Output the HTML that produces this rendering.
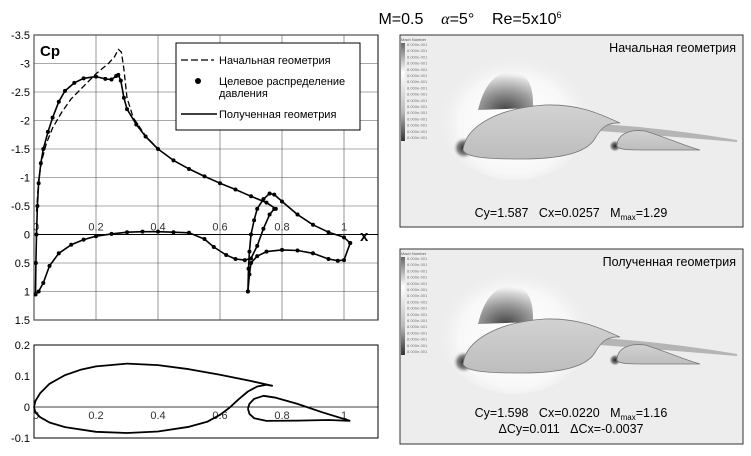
<!DOCTYPE html>
<html><head><meta charset="utf-8"><style>
body{margin:0;background:#fff;width:751px;height:451px;overflow:hidden}
svg{font-family:"Liberation Sans","Noto Sans CJK SC",sans-serif}
</style></head><body>
<svg id="fig" width="751" height="451" viewBox="0 0 751 451">
<defs>
<radialGradient id="shock" cx="0.5" cy="1" r="1"><stop offset="0" stop-color="#444"/><stop offset="0.5" stop-color="#999"/><stop offset="0.85" stop-color="#ddd"/><stop offset="1" stop-color="#eee" stop-opacity="0"/></radialGradient>
<radialGradient id="halo" cx="0.5" cy="0.6" r="0.5"><stop offset="0" stop-color="#fff"/><stop offset="0.7" stop-color="#f8f8f8"/><stop offset="1" stop-color="#ededed" stop-opacity="0"/></radialGradient>
<radialGradient id="stag" cx="0.5" cy="0.5" r="0.5"><stop offset="0" stop-color="#222"/><stop offset="0.6" stop-color="#888"/><stop offset="1" stop-color="#ddd" stop-opacity="0"/></radialGradient>
<linearGradient id="cbar" x1="0" y1="0" x2="0" y2="1"><stop offset="0" stop-color="#666"/><stop offset="0.3" stop-color="#fff"/><stop offset="0.7" stop-color="#bbb"/><stop offset="1" stop-color="#333"/></linearGradient>
<linearGradient id="foil" x1="0" y1="0" x2="0" y2="1"><stop offset="0" stop-color="#d2d2d2"/><stop offset="1" stop-color="#bdbdbd"/></linearGradient>
</defs>
<text x="470" y="24" font-size="16" text-anchor="middle">M=0.5 &#160;&#160; <tspan font-style="italic" font-family="Liberation Serif">α</tspan>=5° &#160;&#160; Re=5x10<tspan font-size="9" dy="-6">6</tspan></text>
<g id="cp"></g>
<g id="geo"></g>
<g id="panels"></g>
</svg>
<script>
// ---- Cp chart data ----
const cpYTicks = [-3.5,-3,-2.5,-2,-1.5,-1,-0.5,0,0.5,1,1.5];
const cpYLabels = ["-3.5","-3","-2.5","-2","-1.5","-1","-0.5","0","0.5","1","1.5"];
const xTicks = [0,0.2,0.4,0.6,0.8,1];
const xLabels = ["0","0.2","0.4","0.6","0.8","1"];
const mainUpperX = [0.005,0.006,0.008,0.011,0.015,0.022,0.03,0.045,0.06,0.08,0.1,0.13,0.16,0.2,0.23,0.25,0.265,0.272,0.28,0.29,0.3,0.33,0.36,0.4,0.45,0.5,0.55,0.6,0.65,0.7,0.75,0.78];
const mainUpperCp = [1.05,0.5,0,-0.5,-0.9,-1.25,-1.5,-1.8,-2.05,-2.33,-2.52,-2.66,-2.74,-2.77,-2.73,-2.72,-2.78,-2.8,-2.7,-2.4,-2.2,-1.93,-1.72,-1.5,-1.3,-1.15,-1.02,-0.9,-0.79,-0.67,-0.56,-0.45];
const initUpperX = [0.008,0.015,0.025,0.04,0.06,0.09,0.12,0.16,0.2,0.24,0.26,0.272,0.282,0.29,0.3,0.32,0.36,0.4];
const initUpperCp = [-0.4,-0.95,-1.3,-1.6,-1.87,-2.15,-2.38,-2.6,-2.82,-3.0,-3.12,-3.25,-3.2,-2.9,-2.4,-2.05,-1.73,-1.5];
const mainLowerX = [0.005,0.015,0.03,0.05,0.08,0.12,0.16,0.2,0.25,0.3,0.35,0.4,0.45,0.5,0.55,0.58,0.62,0.65,0.68,0.7,0.72,0.74,0.76,0.775];
const mainLowerCp = [1.05,1.0,0.85,0.55,0.33,0.18,0.09,0.03,-0.01,-0.04,-0.05,-0.05,-0.04,-0.03,0.08,0.22,0.36,0.43,0.45,0.42,0.2,-0.1,-0.35,-0.45];
const flapUpperX = [0.69,0.692,0.695,0.7,0.71,0.72,0.74,0.76,0.775,0.8,0.85,0.9,0.95,1.0,1.02];
const flapUpperCp = [1.0,0.6,0.3,0.0,-0.25,-0.45,-0.62,-0.72,-0.7,-0.58,-0.35,-0.17,-0.04,0.05,0.15];
const flapLowerX = [0.69,0.695,0.7,0.72,0.75,0.8,0.85,0.9,0.95,0.98,1.0,1.02];
const flapLowerCp = [1.0,0.7,0.5,0.38,0.3,0.27,0.28,0.33,0.43,0.46,0.45,0.15];
// ---- geometry data ----
const geoYTicks = [0.2,0.1,0,-0.1];
const geoYLabels = ["0.2","0.1","0","-0.1"];
const gMainUX = [0,0.005,0.02,0.05,0.1,0.15,0.2,0.3,0.4,0.5,0.6,0.7,0.77];
const gMainUY = [0,0.02,0.045,0.075,0.103,0.12,0.131,0.14,0.135,0.122,0.104,0.084,0.068];
const gMainLX = [0,0.005,0.02,0.05,0.1,0.2,0.3,0.4,0.5,0.56,0.6,0.63,0.66,0.69,0.72,0.75,0.77];
const gMainLY = [0,-0.018,-0.033,-0.05,-0.065,-0.08,-0.084,-0.079,-0.064,-0.047,-0.025,-0.003,0.025,0.05,0.066,0.072,0.068];
const gFlapUX = [0.69,0.695,0.71,0.74,0.78,0.85,0.93,1.02];
const gFlapUY = [-0.005,0.01,0.026,0.036,0.03,0.01,-0.017,-0.045];
const gFlapLX = [0.69,0.695,0.71,0.75,0.85,0.95,1.02];
const gFlapLY = [-0.005,-0.022,-0.036,-0.045,-0.044,-0.042,-0.045];

const NS="http://www.w3.org/2000/svg";
function mk(tag,attrs,parent){const e=document.createElementNS(NS,tag);for(const k in attrs)e.setAttribute(k,attrs[k]);parent.appendChild(e);return e;}
const X0=34, XS=310;
const sx=v=>X0+v*XS;
const cpY=v=>234.5+v*57;
const gY=v=>407-v*310;
const cp=document.getElementById('cp');
let r=mk('rect',{x:34,y:35,width:344,height:285,fill:'none',stroke:'#000','stroke-width':1},cp);


cpYTicks.forEach((t,i)=>{
  const l=mk('line',{x1:34,x2:378,y1:cpY(t),y2:cpY(t),stroke:t===0?'#000':'#555','stroke-width':t===0?1:0.6},cp);
  
  
  const tx=mk('text',{x:30,y:cpY(t)+4,'font-size':11,'text-anchor':'end'},cp);tx.textContent=cpYLabels[i];
  
  
});
xTicks.forEach((t,i)=>{
  const l=mk('line',{x1:sx(t),x2:sx(t),y1:35,y2:320,stroke:'#555','stroke-width':0.6},cp);
  
  
  const tx=mk('text',{x:sx(t)+(i===0?2:0),y:cpY(0)-4,'font-size':11,'text-anchor':'middle',fill:'#333'},cp);tx.textContent=xLabels[i];
  
  
});
let t1=mk('text',{x:40,y:56,'font-size':15,'font-weight':'bold'},cp);t1.textContent='Cp';


let t2=mk('text',{x:360,y:241,'font-size':15,'font-weight':'bold'},cp);t2.textContent='x';


function path(xs,ys,fy,parent,attrs,name){
  const d=xs.map((x,i)=>(i?'L':'M')+sx(x).toFixed(1)+' '+fy(ys[i]).toFixed(1)).join(' ');
  const p=mk('path',Object.assign({d:d,fill:'none',stroke:'#000','stroke-linejoin':'round'},attrs),parent);
  
  
}
path(initUpperX,initUpperCp,cpY,cp,{'stroke-width':1.3,'stroke-dasharray':'6,3'},'initial-geometry-line');
[[mainUpperX,mainUpperCp],[mainLowerX,mainLowerCp],[flapUpperX,flapUpperCp],[flapLowerX,flapLowerCp]].forEach(([xs,ys])=>{
  path(xs,ys,cpY,cp,{'stroke-width':1.6},'result-geometry-line');
  xs.forEach((x,i)=>{
    const c=mk('circle',{cx:sx(x),cy:cpY(ys[i]),r:2,fill:'#000'},cp);
    
    
  });
});
const lg=mk('g',{},cp);


mk('rect',{x:176,y:43,width:184,height:87,fill:'#fff',stroke:'#000','stroke-width':1},lg);
mk('line',{x1:181,x2:214,y1:60,y2:60,stroke:'#000','stroke-width':1.3,'stroke-dasharray':'7,3'},lg);
mk('circle',{cx:198,cy:81,r:3,fill:'#000'},lg);
mk('line',{x1:181,x2:217,y1:114,y2:114,stroke:'#000','stroke-width':1.5},lg);
[['Начальная геометрия',64],['Целевое распределение',85],['давления',97],['Полученная геометрия',118]].forEach(([s,y])=>{
  const t=mk('text',{x:219,y:y,'font-size':11},lg);t.textContent=s;
  
  
});
const geo=document.getElementById('geo');
r=mk('rect',{x:34,y:345,width:344,height:93,fill:'none',stroke:'#000','stroke-width':1},geo);


let zl=mk('line',{x1:34,x2:378,y1:gY(0),y2:gY(0),stroke:'#000','stroke-width':0.8},geo);


geoYTicks.forEach((t,i)=>{
  const tx=mk('text',{x:30,y:gY(t)+4,'font-size':11,'text-anchor':'end'},geo);tx.textContent=geoYLabels[i];
  
  
});
xTicks.forEach((t,i)=>{
  const tx=mk('text',{x:sx(t)+(i===0?2:0),y:gY(0)+12,'font-size':11,'text-anchor':'middle',fill:'#333'},geo);tx.textContent=xLabels[i];
  
  
});
[[gMainUX,gMainUY],[gMainLX,gMainLY],[gFlapUX,gFlapUY],[gFlapLX,gFlapLY]].forEach(([xs,ys])=>path(xs,ys,gY,geo,{'stroke-width':1.8},'airfoil-contour'));
const pn=document.getElementById('panels');
function panel(top,h,title,lines){
  const g=mk('g',{},pn);
  
  
  const dy=top-35;
  mk('rect',{x:400,y:top,width:343,height:h,fill:'#ededed',stroke:'#333','stroke-width':1},g);
  mk('ellipse',{cx:515,cy:110+dy,rx:80,ry:70,fill:'url(#halo)'},g);
  mk('path',{d:`M478 ${110+dy} Q488 ${68+dy} 518 ${72+dy} Q534 ${78+dy} 533 ${108+dy} Z`,fill:'url(#shock)'},g);
  mk('circle',{cx:464,cy:148+dy,r:11,fill:'url(#stag)'},g);
  mk('circle',{cx:615,cy:146+dy,r:6,fill:'url(#stag)'},g);
  mk('path',{d:`M600 ${124+dy} Q665 ${128+dy} 737 ${140+dy} L737 ${142+dy} Q665 ${136+dy} 600 ${131+dy} Z`,fill:'#b5b5b5'},g);
  mk('path',{d:`M463 ${150+dy} C466 ${125+dy} 500 ${108+dy} 545 ${105+dy} C580 ${104+dy} 600 ${114+dy} 620 ${123+dy} C605 ${122+dy} 600 ${130+dy} 594 ${140+dy} C585 ${153+dy} 560 ${159+dy} 522 ${159+dy} C490 ${159+dy} 466 ${158+dy} 463 ${150+dy} Z`,fill:'url(#foil)',stroke:'#777','stroke-width':0.8},g);
  mk('path',{d:`M617 ${146+dy} C617 ${134+dy} 630 ${129+dy} 645 ${131+dy} C665 ${137+dy} 685 ${146+dy} 700 ${150+dy} L650 ${150+dy} C630 ${150+dy} 618 ${150+dy} 617 ${146+dy} Z`,fill:'url(#foil)',stroke:'#777','stroke-width':0.8},g);
  mk('rect',{x:401,y:top+8,width:4,height:98,fill:'url(#cbar)'},g);
  const cl=mk('text',{x:401,y:top+6,'font-size':4,fill:'#555'},g);cl.textContent='Mach Number';
  for(let k=0;k<16;k++){const tl=mk('text',{x:407,y:top+11+k*6.2,'font-size':4,fill:'#777'},g);tl.textContent='8.000e-001';}
  const tt=mk('text',{x:736,y:top+17,'font-size':12.5,'text-anchor':'end'},g);tt.textContent=title;
  
  
  lines.forEach((s,i)=>{
    const t=mk('text',{x:571,y:top+182+i*16 - (lines.length>1?14:0),'font-size':12.5,'text-anchor':'middle'},g);
    t.innerHTML=s;
    
    
  });
}
panel(35,192,'Начальная геометрия',['Cy=1.587 &#160; Cx=0.0257 &#160; M<tspan font-size="8" dy="3">max</tspan><tspan dy="-3">=1.29</tspan>']);
panel(249,195,'Полученная геометрия',['Cy=1.598 &#160; Cx=0.0220 &#160; M<tspan font-size="8" dy="3">max</tspan><tspan dy="-3">=1.16</tspan>','ΔCy=0.011 &#160; ΔCx=-0.0037']);
</script>
</body></html>
